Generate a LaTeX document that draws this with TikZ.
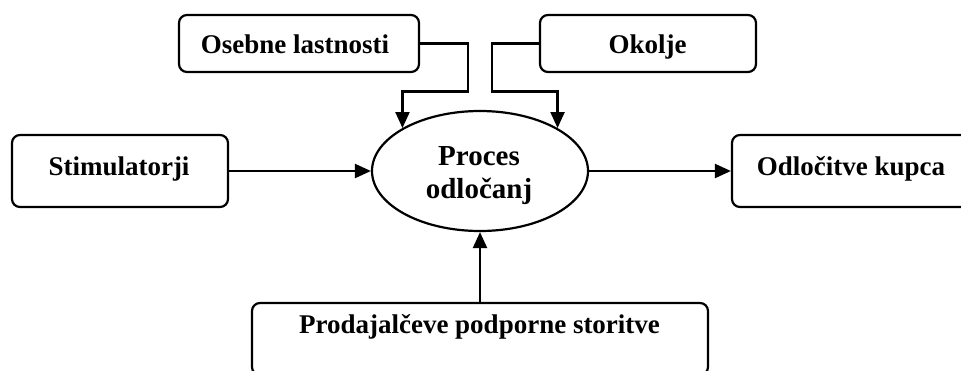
\documentclass[tikz,border=0pt]{standalone}
\usepackage{fontspec}
\setmainfont{Liberation Serif}
\usetikzlibrary{shapes.geometric,arrows.meta}
\begin{document}
\begin{tikzpicture}[x=1pt,y=-1pt,
  box/.style={draw, line width=2.2pt, rounded corners=8pt, minimum width=#1, inner sep=0pt},
  lbl/.style={font=\bfseries\fontsize{27}{33}\selectfont, inner sep=0pt, anchor=base},
  biglbl/.style={lbl, font=\bfseries\fontsize{29}{33}\selectfont},
  conn/.style={line width=2.2pt, -{Triangle[length=16pt,width=14pt]}}]
\useasboundingbox (0,0) rectangle (961,370);
\clip (0,0) rectangle (961,370);
% boxes
\node[box=240pt, minimum height=57pt] (osb) at (299,43.5) {};
\node[box=216pt, minimum height=57pt] (oko) at (648,43.5) {};
\node[box=216pt, minimum height=72pt] (sti) at (120,171) {};
\node[box=240pt, minimum height=72pt] (odl) at (852,171) {};
\node[box=456pt, minimum height=72pt] (pro) at (480,339) {};
\node[draw, ellipse, line width=2.2pt, minimum width=216pt, minimum height=120pt, inner sep=0pt] (ell) at (480,171) {};
% texts
\node[lbl] (tosb) at (295,53) {Osebne lastnosti};
\node[lbl] (toko) at (647.5,53) {Okolje};
\node[lbl] (tsti) at (119,175) {Stimulatorji};
\node[lbl] (todl) at (851,175) {Odločitve kupca};
\node[lbl] (tpro) at (479.5,333) {Prodajalčeve podporne storitve};
\node[biglbl] (tell1) at (479,165) {Proces};
\node[biglbl] (tell2) at (479,198) {odločanj};
% connectors
\draw[conn] (osb.east) -- ++(48,0) -- ++(0,48) -| (ell.151);
\draw[conn] (oko.west) -- ++(-47,0) -- ++(0,48) -| (ell.29);
\draw[conn] (sti.east) -- (ell.west);
\draw[conn] (ell.east) -- (odl.west);
\draw[conn] (pro.north) -- (ell.south);
\end{tikzpicture}
\end{document}
